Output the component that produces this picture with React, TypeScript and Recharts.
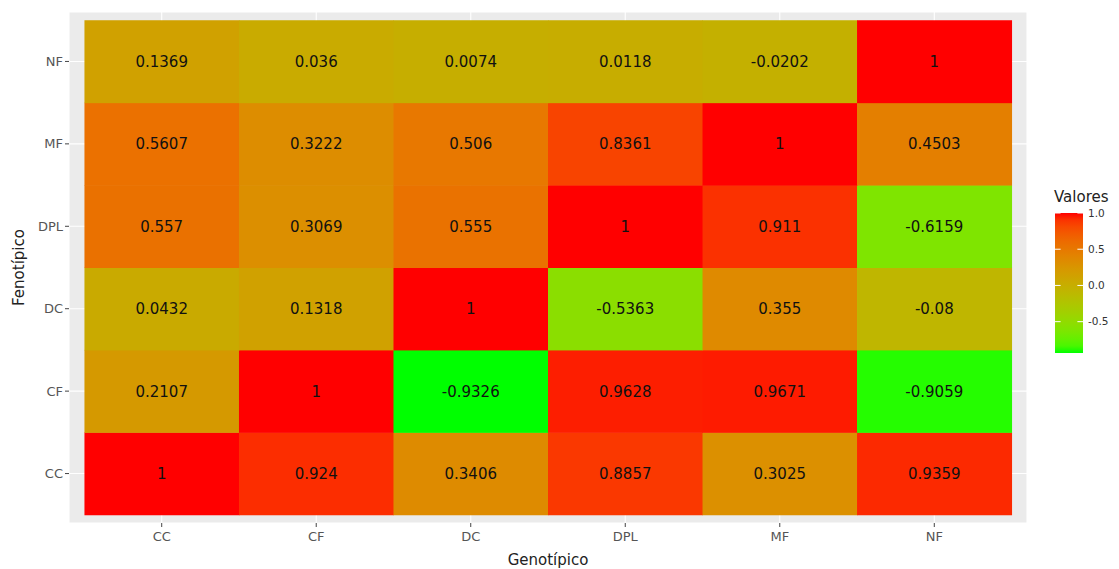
import React from "react";
import {
  ScatterChart,
  Scatter,
  XAxis,
  YAxis,
  CartesianGrid,
} from "recharts";

// categorias (eixo x = genotípico, eixo y = fenotípico)
const genotipos = ["CC", "CF", "DC", "DPL", "MF", "NF"];
const fenotipos = ["CC", "CF", "DC", "DPL", "MF", "NF"];

// correlações por linha (fenotípico), na ordem dos genotipos
const filaCC = [1, 0.924, 0.3406, 0.8857, 0.3025, 0.9359];
const filaCF = [0.2107, 1, -0.9326, 0.9628, 0.9671, -0.9059];
const filaDC = [0.0432, 0.1318, 1, -0.5363, 0.355, -0.08];
const filaDPL = [0.557, 0.3069, 0.555, 1, 0.911, -0.6159];
const filaMF = [0.5607, 0.3222, 0.506, 0.8361, 1, 0.4503];
const filaNF = [0.1369, 0.036, 0.0074, 0.0118, -0.0202, 1];

const legendBreaks = [1.0, 0.5, 0.0, -0.5];

const filas = [filaCC, filaCF, filaDC, filaDPL, filaMF, filaNF];

const tiles = filas.flatMap((fila, y) =>
  fila.map((valor, x) => ({ x, y, valor }))
);

const allValues = filas.flat();
const vMin = Math.min(...allValues);
const vMax = Math.max(...allValues);

const W = 1119;
const H = 569;
const MARGIN = { top: 12, right: 92, bottom: 0, left: 0 };
const Y_AXIS_W = 69;
const X_AXIS_H = 46;
const PLOT_W = W - MARGIN.left - MARGIN.right - Y_AXIS_W;
const PLOT_H = H - MARGIN.top - MARGIN.bottom - X_AXIS_H;
const DOMAIN: [number, number] = [-0.6, 5.6];
const CELL_W = PLOT_W / (DOMAIN[1] - DOMAIN[0]);
const CELL_H = PLOT_H / (DOMAIN[1] - DOMAIN[0]);

const FONT = "'DejaVu Sans', 'Liberation Sans', Arial, sans-serif";

// --- green -> red ramp interpolated in CIE Lab ---
type Lab = [number, number, number];

const toLinear = (c: number) => {
  const v = c / 255;
  return v <= 0.04045 ? v / 12.92 : Math.pow((v + 0.055) / 1.055, 2.4);
};
const fromLinear = (v: number) => {
  const c = v <= 0.0031308 ? 12.92 * v : 1.055 * Math.pow(v, 1 / 2.4) - 0.055;
  return Math.round(Math.min(1, Math.max(0, c)) * 255);
};
const Xn = 0.95047;
const Yn = 1.0;
const Zn = 1.08883;
const f = (t: number) => (t > 0.008856 ? Math.cbrt(t) : 7.787 * t + 16 / 116);
const finv = (t: number) =>
  t * t * t > 0.008856 ? t * t * t : (t - 16 / 116) / 7.787;

const rgbToLab = (r: number, g: number, b: number): Lab => {
  const R = toLinear(r);
  const G = toLinear(g);
  const B = toLinear(b);
  const X = 0.4124 * R + 0.3576 * G + 0.1805 * B;
  const Y = 0.2126 * R + 0.7152 * G + 0.0722 * B;
  const Z = 0.0193 * R + 0.1192 * G + 0.9505 * B;
  const fx = f(X / Xn);
  const fy = f(Y / Yn);
  const fz = f(Z / Zn);
  return [116 * fy - 16, 500 * (fx - fy), 200 * (fy - fz)];
};

const labToHex = ([L, a, b]: Lab) => {
  const fy = (L + 16) / 116;
  const fx = fy + a / 500;
  const fz = fy - b / 200;
  const X = Xn * finv(fx);
  const Y = Yn * finv(fy);
  const Z = Zn * finv(fz);
  const r = 3.2406 * X - 1.5372 * Y - 0.4986 * Z;
  const g = -0.9689 * X + 1.8758 * Y + 0.0415 * Z;
  const bl = 0.0557 * X - 0.204 * Y + 1.057 * Z;
  const hex = (n: number) => n.toString(16).padStart(2, "0");
  return `#${hex(fromLinear(r))}${hex(fromLinear(g))}${hex(fromLinear(bl))}`;
};

const LOW = rgbToLab(0, 255, 0);
const HIGH = rgbToLab(255, 0, 0);

const fillFor = (v: number) => {
  const t = (v - vMin) / (vMax - vMin);
  return labToHex([
    LOW[0] + (HIGH[0] - LOW[0]) * t,
    LOW[1] + (HIGH[1] - LOW[1]) * t,
    LOW[2] + (HIGH[2] - LOW[2]) * t,
  ]);
};

const Tile = (props: any) => {
  const { cx, cy, payload } = props;
  return (
    <g>
      <rect
        x={cx - CELL_W / 2}
        y={cy - CELL_H / 2}
        width={CELL_W + 0.5}
        height={CELL_H + 0.5}
        fill={fillFor(payload.valor)}
      />
      <text
        x={cx}
        y={cy}
        dy="0.36em"
        textAnchor="middle"
        fontFamily={FONT}
        fontSize={15}
        fill="#111"
      >
        {String(payload.valor)}
      </text>
    </g>
  );
};

// colour bar geometry
const BAR_X = 1055;
const BAR_Y = 213;
const BAR_W = 28;
const BAR_H = 140;
const barY = (v: number) => BAR_Y + ((vMax - v) / (vMax - vMin)) * BAR_H;
const gradStops = Array.from({ length: 21 }, (_, k) => k / 20);

const App = () => {
  const axisTick = { fill: "#555", fontSize: 13, fontFamily: FONT };
  return (
    <div
      style={{
        position: "absolute",
        left: 0,
        top: 0,
        width: W,
        height: H,
        background: "#fff",
      }}
    >
      <ScatterChart width={W} height={H} margin={MARGIN}>
        <CartesianGrid fill="#EBEBEB" stroke="#FFFFFF" strokeWidth={1.1} />
        <XAxis
          type="number"
          dataKey="x"
          domain={DOMAIN}
          ticks={[0, 1, 2, 3, 4, 5]}
          interval={0}
          tickFormatter={(i: number) => genotipos[i]}
          axisLine={false}
          tickSize={4}
          tickMargin={5}
          tickLine={{ stroke: "#444" }}
          tick={axisTick}
          height={X_AXIS_H}
        />
        <YAxis
          type="number"
          dataKey="y"
          domain={DOMAIN}
          ticks={[0, 1, 2, 3, 4, 5]}
          interval={0}
          tickFormatter={(i: number) => fenotipos[i]}
          axisLine={false}
          tickSize={4}
          tickMargin={2}
          tickLine={{ stroke: "#444" }}
          tick={axisTick}
          width={Y_AXIS_W}
        />
        <Scatter data={tiles} shape={Tile} isAnimationActive={false} />
      </ScatterChart>

      <svg
        width={W}
        height={H}
        style={{ position: "absolute", left: 0, top: 0, pointerEvents: "none" }}
      >
        <defs>
          <linearGradient id="valores" x1="0" y1="0" x2="0" y2="1">
            {gradStops.map((o) => (
              <stop
                key={o}
                offset={o}
                stopColor={fillFor(vMax - o * (vMax - vMin))}
              />
            ))}
          </linearGradient>
        </defs>

        <text
          x={MARGIN.left + Y_AXIS_W + PLOT_W / 2}
          y={565}
          textAnchor="middle"
          fontFamily={FONT}
          fontSize={15}
          fill="#222"
        >
          Genotípico
        </text>
        <text
          transform={`translate(24, ${MARGIN.top + PLOT_H / 2}) rotate(-90)`}
          textAnchor="middle"
          fontFamily={FONT}
          fontSize={15}
          fill="#222"
        >
          Fenotípico
        </text>

        {/* legend */}
        <text x={BAR_X - 1} y={202} fontFamily={FONT} fontSize={15} fill="#222">
          Valores
        </text>
        <rect x={BAR_X} y={BAR_Y} width={BAR_W} height={BAR_H} fill="url(#valores)" />
        {legendBreaks.map((b) => (
          <g key={b}>
            <line
              x1={BAR_X}
              x2={BAR_X + BAR_W / 5}
              y1={barY(b)}
              y2={barY(b)}
              stroke="#fff"
              strokeWidth={1}
            />
            <line
              x1={BAR_X + BAR_W - BAR_W / 5}
              x2={BAR_X + BAR_W}
              y1={barY(b)}
              y2={barY(b)}
              stroke="#fff"
              strokeWidth={1}
            />
            <text
              x={BAR_X + BAR_W + 5}
              y={barY(b)}
              dy="0.36em"
              fontFamily={FONT}
              fontSize={10.5}
              fill="#333"
            >
              {b.toFixed(1)}
            </text>
          </g>
        ))}
      </svg>
    </div>
  );
};

export default App;
